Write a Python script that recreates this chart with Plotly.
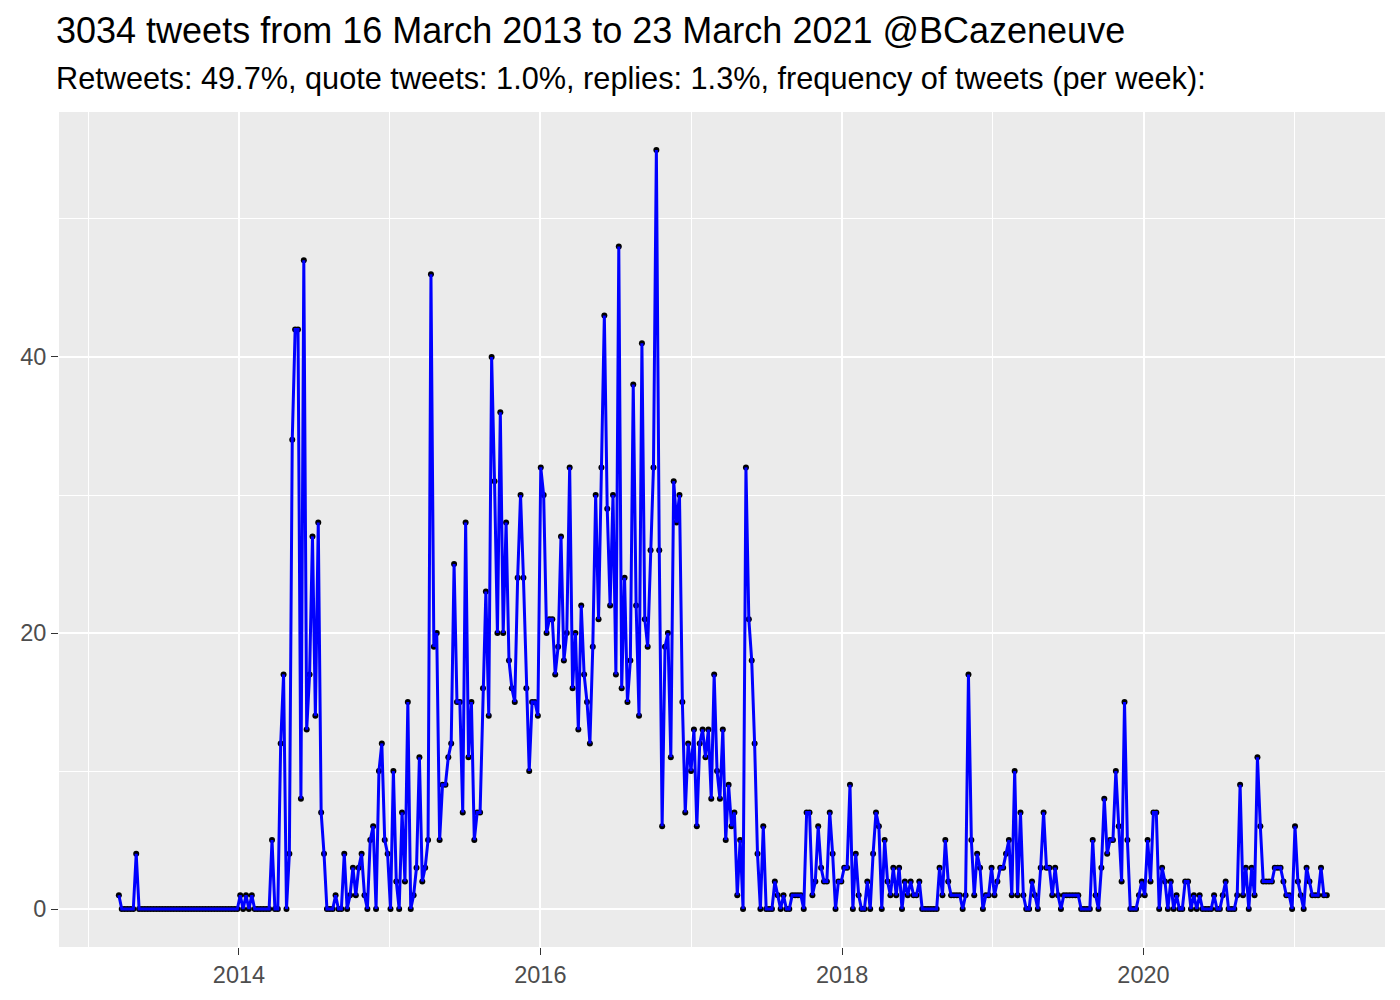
import pandas as pd
import plotly.graph_objects as go

# ---- data ----
title_text = "3034 tweets from 16 March 2013 to 23 March 2021 @BCazeneuve"
subtitle_text = "Retweets: 49.7%, quote tweets: 1.0%, replies: 1.3%, frequency of tweets (per week):"

first_week = "2013-03-16"
week_step = "7D"

tweets_per_week = [
    1, 0, 0, 0, 0, 0, 4, 0, 0, 0,
    0, 0, 0, 0, 0, 0, 0, 0, 0, 0,
    0, 0, 0, 0, 0, 0, 0, 0, 0, 0,
    0, 0, 0, 0, 0, 0, 0, 0, 0, 0,
    0, 0, 1, 0, 1, 0, 1, 0, 0, 0,
    0, 0, 0, 5, 0, 0, 12, 17, 0, 4,
    34, 42, 42, 8, 47, 13, 17, 27, 14, 28,
    7, 4, 0, 0, 0, 1, 0, 0, 4, 0,
    1, 3, 1, 3, 4, 1, 0, 5, 6, 0,
    10, 12, 5, 4, 0, 10, 2, 0, 7, 2,
    15, 0, 1, 3, 11, 2, 3, 5, 46, 19,
    20, 5, 9, 9, 11, 12, 25, 15, 15, 7,
    28, 11, 15, 5, 7, 7, 16, 23, 14, 40,
    31, 20, 36, 20, 28, 18, 16, 15, 24, 30,
    24, 16, 10, 15, 15, 14, 32, 30, 20, 21,
    21, 17, 19, 27, 18, 20, 32, 16, 20, 13,
    22, 17, 15, 12, 19, 30, 21, 32, 43, 29,
    22, 30, 17, 48, 16, 24, 15, 18, 38, 22,
    14, 41, 21, 19, 26, 32, 55, 26, 6, 19,
    20, 11, 31, 28, 30, 15, 7, 12, 10, 13,
    6, 12, 13, 11, 13, 8, 17, 10, 8, 13,
    5, 9, 6, 7, 1, 5, 0, 32, 21, 18,
    12, 4, 0, 6, 0, 0, 0, 2, 1, 0,
    1, 0, 0, 1, 1, 1, 1, 0, 7, 7,
    1, 2, 6, 3, 2, 2, 7, 4, 0, 2,
    2, 3, 3, 9, 0, 4, 1, 0, 0, 2,
    0, 4, 7, 6, 0, 5, 2, 1, 3, 1,
    3, 0, 2, 1, 2, 1, 1, 2, 0, 0,
    0, 0, 0, 0, 3, 1, 5, 2, 1, 1,
    1, 1, 0, 1, 17, 5, 1, 4, 3, 0,
    1, 1, 3, 1, 2, 3, 3, 4, 5, 1,
    10, 1, 7, 1, 0, 0, 2, 1, 0, 3,
    7, 3, 3, 1, 3, 1, 0, 1, 1, 1,
    1, 1, 1, 0, 0, 0, 0, 5, 1, 0,
    3, 8, 4, 5, 5, 10, 6, 2, 15, 5,
    0, 0, 0, 1, 2, 1, 5, 2, 7, 7,
    0, 3, 2, 0, 2, 0, 1, 0, 0, 2,
    2, 0, 1, 0, 1, 0, 0, 0, 0, 1,
    0, 0, 1, 2, 0, 0, 0, 1, 9, 1,
    3, 0, 3, 1, 11, 6, 2, 2, 2, 2,
    3, 3, 3, 2, 1, 1, 0, 6, 2, 1,
    0, 3, 2, 1, 1, 1, 3, 1, 1,
]

week_dates = pd.date_range(first_week, periods=len(tweets_per_week), freq=week_step)

# ---- figure ----
FONT = "Liberation Sans, Arial, Helvetica, sans-serif"

fig = go.Figure()
fig.add_trace(go.Scatter(
    x=week_dates, y=tweets_per_week, mode="markers",
    marker=dict(color="black", size=6),
    hoverinfo="skip",
))
fig.add_trace(go.Scatter(
    x=week_dates, y=tweets_per_week, mode="lines",
    line=dict(color="#0000FF", width=3),
))

axis_common = dict(
    ticks="outside", ticklen=7, tickwidth=1.4, tickcolor="#333333",
    tickfont=dict(size=23.5, color="#4D4D4D", family=FONT),
    showgrid=True, gridcolor="white", gridwidth=2.2,
    zeroline=False, showline=False,
)

fig.update_layout(
    width=1392, height=992,
    margin=dict(l=49, r=15, t=104, b=53),
    paper_bgcolor="white", plot_bgcolor="#EBEBEB",
    showlegend=False,
    font=dict(family=FONT, color="#4D4D4D"),
    xaxis=dict(
        type="date",
        range=["2012-10-22", "2021-08-08"],
        tick0="2014-01-01", dtick="M24", tickformat="%Y",
        minor=dict(dtick="M12", tick0="2013-01-01", showgrid=True,
                   gridcolor="white", gridwidth=1.1, ticks=""),
        **axis_common,
    ),
    yaxis=dict(
        range=[-2.75, 57.75],
        tick0=0, dtick=20,
        minor=dict(dtick=10, tick0=0, showgrid=True,
                   gridcolor="white", gridwidth=1.1, ticks=""),
        **axis_common,
    ),
    annotations=[
        dict(text=title_text, xref="paper", yref="paper", x=-0.0035, y=1.071,
             xanchor="left", yanchor="bottom", showarrow=False,
             font=dict(size=36, color="black", family=FONT)),
        dict(text=subtitle_text, xref="paper", yref="paper", x=-0.0035, y=1.0164,
             xanchor="left", yanchor="bottom", showarrow=False,
             font=dict(size=30.7, color="black", family=FONT)),
    ],
)

fig.write_html("out.html")
